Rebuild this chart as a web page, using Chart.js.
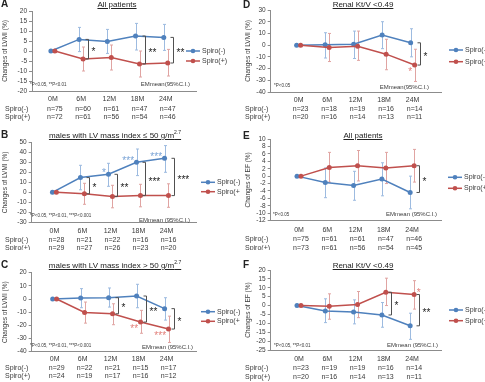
<!DOCTYPE html>
<html>
<head>
<meta charset="utf-8">
<title>LVMI / EF changes</title>
<script src="https://cdn.jsdelivr.net/npm/chart.js@4.4.1/dist/chart.umd.min.js"></script>
<style>
  html, body { margin: 0; padding: 0; background: #fff; }
  #fig { position: relative; width: 485px; height: 382px; overflow: hidden;
         font-family: "Liberation Sans", Arial, sans-serif; color: #222; }
  .panel { position: absolute; }
  .panel canvas { position: absolute; left: 0; top: 0; }
  .letter { position: absolute; font-weight: bold; font-size: 10px; line-height: 10px; }
  .title { position: absolute; font-size: 8px; line-height: 9px; white-space: nowrap;
           text-decoration: underline; transform: translateX(-50%); }
  .title sup { font-size: 5px; line-height: 0; }
</style>
</head>
<body>
<div id="fig">
  <div class="panel" style="left:0;top:0;width:240px;height:125px">
    <canvas id="cA" width="240" height="125"></canvas>
    <div class="letter" style="left:1px;top:-1px">A</div>
    <div class="title" style="left:117px;top:0px">All patients</div>
  </div>
  <div class="panel" style="left:0;top:125px;width:240px;height:125px">
    <canvas id="cB" width="240" height="125"></canvas>
    <div class="letter" style="left:1px;top:5px">B</div>
    <div class="title" style="left:115px;top:6px">males with LV mass index ≤ 50 g/m<sup>2.7</sup></div>
  </div>
  <div class="panel" style="left:0;top:250px;width:240px;height:132px">
    <canvas id="cC" width="240" height="132"></canvas>
    <div class="letter" style="left:1px;top:10px">C</div>
    <div class="title" style="left:115px;top:11px">males with LV mass index &gt; 50 g/m<sup>2.7</sup></div>
  </div>
  <div class="panel" style="left:240px;top:0;width:245px;height:125px">
    <canvas id="cD" width="245" height="125"></canvas>
    <div class="letter" style="left:3px;top:0px">D</div>
    <div class="title" style="left:123px;top:0px">Renal Kt/V &lt;0.49</div>
  </div>
  <div class="panel" style="left:240px;top:125px;width:245px;height:125px">
    <canvas id="cE" width="245" height="125"></canvas>
    <div class="letter" style="left:3px;top:6px">E</div>
    <div class="title" style="left:123px;top:6px">All patients</div>
  </div>
  <div class="panel" style="left:240px;top:250px;width:245px;height:132px">
    <canvas id="cF" width="245" height="132"></canvas>
    <div class="letter" style="left:3px;top:10px">F</div>
    <div class="title" style="left:123px;top:11px">Renal Kt/V &lt;0.49</div>
  </div>
</div>

<script>
/* ======================================================
   DATA
====================================================== */

const months = ["0M", "6M", "12M", "18M", "24M"];
const seriesNames = ["Spiro(-)", "Spiro(+)"];

// A: LVMI, all patients
const lvmiAllMinus   = [0, 5.8, 4.8, 7.5, 6.8];
const lvmiAllMinusCI = [[0, 0], [-0.3, 11.8], [-1.2, 10.8], [0.5, 13.8], [0.3, 13.3]];
const lvmiAllPlus    = [0, -4.0, -3.3, -6.5, -6.0];
const lvmiAllPlusCI  = [[0, 0], [-10, 2], [-9.5, 3], [-13, 0], [-12.5, 0.8]];
const lvmiAllNMinus  = [75, 60, 61, 47, 47];
const lvmiAllNPlus   = [72, 61, 56, 54, 46];
const lvmiAllSig     = [[1, "*"], [3, "**"], [4, "**"]];
const lvmiAllStars   = [];

// B: LVMI, males with LV mass index <= 50
const lvmiLowMinus   = [0, 14.7, 18, 30, 34];
const lvmiLowMinusCI = [[0, 0], [2.5, 27], [6, 29], [16.7, 43.3], [20, 46.7]];
const lvmiLowPlus    = [0, -1.5, -4.3, -3.3, -3.3];
const lvmiLowPlusCI  = [[0, 0], [-12, 9], [-15.5, 7], [-14.5, 8], [-15, 8.5]];
const lvmiLowNMinus  = [28, 21, 22, 16, 16];
const lvmiLowNPlus   = [29, 27, 26, 23, 20];
const lvmiLowSig     = [[1, "*"], [2, "**"], [3, "***"], [4, "***"]];
const lvmiLowStars   = [[0, 2, "*"], [0, 3, "***"], [0, 4, "***"]];

// C: LVMI, males with LV mass index > 50
const lvmiHighMinus   = [0, 0.8, 1, 2.3, -7.3];
const lvmiHighMinusCI = [[0, 0], [-6.6, 7.9], [-6.1, 8.4], [-6.6, 11.2], [-16, 1]];
const lvmiHighPlus    = [0, -10.2, -11.2, -17.5, -22.8];
const lvmiHighPlusCI  = [[0, 0], [-18.3, -2.3], [-19.5, -3.6], [-26, -8.6], [-33, -13]];
const lvmiHighNMinus  = [29, 22, 21, 15, 17];
const lvmiHighNPlus   = [24, 19, 17, 16, 12];
const lvmiHighSig     = [[2, "*"], [3, "**"], [4, "*"]];
const lvmiHighStars   = [[1, 3, "**"], [1, 4, "***"]];

// D: LVMI, renal Kt/V < 0.49
const lvmiKtvMinus   = [0, 0.3, 0.8, 8.6, 2];
const lvmiKtvMinusCI = [[0, 0], [-11, 10.6], [-11.4, 12], [-3, 20], [-10, 14]];
const lvmiKtvPlus    = [0, -2, -1, -7.7, -17];
const lvmiKtvPlusCI  = [[0, 0], [-14, 10], [-13, 12], [-21, 5], [-31, -3.5]];
const lvmiKtvNMinus  = [23, 18, 19, 16, 14];
const lvmiKtvNPlus   = [20, 16, 14, 13, 11];
const lvmiKtvSig     = [[4, "*"]];
const lvmiKtvStars   = [[1, 4, "*"]];

// E: EF, all patients
const efAllMinus   = [0, -1.7, -2.5, -0.8, -4.4];
const efAllMinusCI = [[0, 0], [-5.8, 2.2], [-6.5, 1.3], [-5.3, 3.6], [-8.8, 0]];
const efAllPlus    = [0, 2.3, 2.8, 2.2, 2.8];
const efAllPlusCI  = [[0, 0], [-1.6, 6.4], [-1.3, 6.9], [-2, 6.4], [-1.6, 7.2]];
const efAllNMinus  = [75, 61, 61, 47, 46];
const efAllNPlus   = [73, 61, 56, 54, 45];
const efAllSig     = [[4, "*"]];
const efAllStars   = [];

// F: EF, renal Kt/V < 0.49
const efKtvMinus   = [0, -3, -3.6, -5.3, -11.4];
const efKtvMinusCI = [[0, 0], [-9.6, 3.8], [-10.3, 3.2], [-12.2, 1.7], [-19, -4.3]];
const efKtvPlus    = [0, -0.4, 0.6, 7.5, 6.2];
const efKtvPlusCI  = [[0, 0], [-7.7, 6.6], [-6.8, 7.9], [0, 15.4], [-2, 14]];
const efKtvNMinus  = [23, 19, 19, 16, 14];
const efKtvNPlus   = [20, 16, 14, 13, 11];
const efKtvSig     = [[3, "*"], [4, "**"]];
const efKtvStars   = [[1, 4, "*"]];

/* ======================================================
   STYLE
====================================================== */

const BLUE = "#4f81bd";
const RED = "#c0504d";
const BLUE_BAR = "#9dbbe0";
const RED_BAR = "#e0a4a2";
const BLUE_STAR = "#7aa3d6";
const RED_STAR = "#e2807b";
const AXIS = "#8c8c8c";
const TEXT = "#3a3a3a";
const BRACKET = "#505050";
const DODGE = 0.07;
const FONT = "'Liberation Sans', Arial, sans-serif";

Chart.defaults.font.family = FONT;

/* ======================================================
   PANELS
====================================================== */

const panels = [
  { canvas: "cA", w: 240, h: 125, yTitle: "Changes of LVMI (%)",
    minus: lvmiAllMinus, minusCI: lvmiAllMinusCI, plus: lvmiAllPlus, plusCI: lvmiAllPlusCI,
    nMinus: lvmiAllNMinus, nPlus: lvmiAllNPlus, sig: lvmiAllSig, stars: lvmiAllStars,
    note: "*P<0.05, **P<0.01", emm: "EMmean(95%C.I.)",
    yMin: -20, yMax: 20, yStep: 5,
    box: { l: 32, r: 196.5, t: 11, b: 91, xMin: -0.74, xMax: 5.09, labelY: 99, nY: [109, 117],
           legX: 186, legY: [51, 61], noteX: 30, noteY: 85, emmX: 190, emmY: 84, titlePad: 1, starSide: "la" } },
  { canvas: "cB", w: 240, h: 125, yTitle: "Changes of LVMI (%)",
    minus: lvmiLowMinus, minusCI: lvmiLowMinusCI, plus: lvmiLowPlus, plusCI: lvmiLowPlusCI,
    nMinus: lvmiLowNMinus, nPlus: lvmiLowNPlus, sig: lvmiLowSig, stars: lvmiLowStars,
    note: "*P<0.05, **P<0.01, ***P<0.001", emm: "EMmean (95%C.I.)",
    yMin: -30, yMax: 50, yStep: 10,
    box: { l: 31.7, r: 196.5, t: 17.3, b: 97.3, xMin: -0.81, xMax: 5.07, labelY: 106, nY: [115, 123.3],
           legX: 201, legY: [57.3, 66.7], noteX: 30, noteY: 91, emmX: 190, emmY: 95, titlePad: 1, starSide: "la" } },
  { canvas: "cC", w: 240, h: 132, yTitle: "Changes of LVMI (%)",
    minus: lvmiHighMinus, minusCI: lvmiHighMinusCI, plus: lvmiHighPlus, plusCI: lvmiHighPlusCI,
    nMinus: lvmiHighNMinus, nPlus: lvmiHighNPlus, sig: lvmiHighSig, stars: lvmiHighStars,
    note: "*P<0.05, **P<0.01, ***P<0.001", emm: "EMmean (95%C.I.)",
    yMin: -40, yMax: 20, yStep: 10,
    box: { l: 31.7, r: 196.5, t: 22.7, b: 101.7, xMin: -0.82, xMax: 5.07, labelY: 108.3, nY: [118.3, 126],
           legX: 201, legY: [61.7, 71.3], noteX: 30, noteY: 96, emmX: 193, emmY: 97.3, titlePad: 1, starSide: "lb" } },
  { canvas: "cD", w: 245, h: 125, yTitle: "Changes of LVMI (%)",
    minus: lvmiKtvMinus, minusCI: lvmiKtvMinusCI, plus: lvmiKtvPlus, plusCI: lvmiKtvPlusCI,
    nMinus: lvmiKtvNMinus, nPlus: lvmiKtvNPlus, sig: lvmiKtvSig, stars: lvmiKtvStars,
    note: "*P<0.05", emm: "EMmean(95%C.I.)",
    yMin: -40, yMax: 30, yStep: 10,
    box: { l: 30.7, r: 201.7, t: 10, b: 92, xMin: -0.98, xMax: 5.02, labelY: 99.3, nY: [109, 117],
           legX: 209, legY: [50, 61.7], noteX: 34, noteY: 86, emmX: 189, emmY: 87, titlePad: 4, starSide: "lb" } },
  { canvas: "cE", w: 245, h: 125, yTitle: "Changes of EF (%)",
    minus: efAllMinus, minusCI: efAllMinusCI, plus: efAllPlus, plusCI: efAllPlusCI,
    nMinus: efAllNMinus, nPlus: efAllNPlus, sig: efAllSig, stars: efAllStars,
    note: "*P<0.05", emm: "EMmean (95%C.I.)",
    yMin: -12, yMax: 10, yStep: 2,
    box: { l: 30.7, r: 201, t: 14, b: 95.7, xMin: -1.0, xMax: 5.02, labelY: 104.7, nY: [114.3, 122.7],
           legX: 208, legY: [52.3, 63.3], noteX: 33, noteY: 89.3, emmX: 197, emmY: 89, titlePad: 4, starSide: "la" } },
  { canvas: "cF", w: 245, h: 132, yTitle: "Changes of EF (%)",
    minus: efKtvMinus, minusCI: efKtvMinusCI, plus: efKtvPlus, plusCI: efKtvPlusCI,
    nMinus: efKtvNMinus, nPlus: efKtvNPlus, sig: efKtvSig, stars: efKtvStars,
    note: "*P<0.05, **P<0.01", emm: "EMmean (95%C.I.)",
    yMin: -25, yMax: 20, yStep: 5,
    box: { l: 30.7, r: 201, t: 20, b: 100, xMin: -1.0, xMax: 5.02, labelY: 108.3, nY: [118.3, 127],
           legX: 209, legY: [60, 70.7], noteX: 34, noteY: 95.7, emmX: 198, emmY: 95.7, titlePad: 4, starSide: "ra" } }
];

/* ======================================================
   HELPERS
====================================================== */

// draws an asterisk string so the glyphs are visually centred on yc
function drawStars(ctx, text, x, yc, align, color) {
  ctx.font = "10px " + FONT;
  ctx.fillStyle = color;
  ctx.textAlign = align;
  ctx.textBaseline = "alphabetic";
  ctx.fillText(text, x, yc + 5.7);
}

function makeExtras(p) {
  const B = p.box;
  const sets = [
    { vals: p.minus, ci: p.minusCI, d: -DODGE, bar: BLUE_BAR, col: BLUE, star: BLUE_STAR },
    { vals: p.plus, ci: p.plusCI, d: DODGE, bar: RED_BAR, col: RED, star: RED_STAR }
  ];
  return {
    id: "extras_" + p.canvas,
    beforeDatasetsDraw(chart) {
      const { ctx, scales: { x, y } } = chart;
      sets.forEach(s => {
        ctx.save();
        ctx.strokeStyle = s.bar;
        ctx.lineWidth = 1;
        s.ci.forEach((c, i) => {
          if (c[0] === c[1]) return;
          const px = Math.round(x.getPixelForValue(i + s.d)) + 0.5;
          const y1 = y.getPixelForValue(c[0]);
          const y2 = y.getPixelForValue(c[1]);
          ctx.beginPath();
          ctx.moveTo(px, y1); ctx.lineTo(px, y2);
          ctx.moveTo(px - 1.5, y1); ctx.lineTo(px + 1.5, y1);
          ctx.moveTo(px - 1.5, y2); ctx.lineTo(px + 1.5, y2);
          ctx.stroke();
        });
        ctx.restore();
      });
    },
    afterDraw(chart) {
      const { ctx, scales: { x, y } } = chart;
      ctx.save();

      // between-group brackets
      p.sig.forEach(([i, label]) => {
        const bx = Math.round(x.getPixelForValue(i + 0.25)) + 0.5;
        const yt = y.getPixelForValue(Math.max(p.minus[i], p.plus[i]));
        const yb = y.getPixelForValue(Math.min(p.minus[i], p.plus[i]));
        ctx.strokeStyle = BRACKET;
        ctx.lineWidth = 1;
        ctx.beginPath();
        ctx.moveTo(bx - 3, yt); ctx.lineTo(bx, yt); ctx.lineTo(bx, yb); ctx.lineTo(bx - 3, yb);
        ctx.stroke();
        drawStars(ctx, label, bx + 3, (yt + yb) / 2, "left", "#222");
      });

      // within-group stars (vs baseline)
      p.stars.forEach(([si, i, label]) => {
        const s = sets[si];
        const px = x.getPixelForValue(i + s.d);
        const py = y.getPixelForValue(s.vals[i]);
        const left = B.starSide[0] === "l";
        const above = B.starSide[1] === "a";
        drawStars(ctx, label, left ? px - 2.5 : px + 2.5, above ? py - 4.5 : py + 4.5,
                  left ? "right" : "left", s.star);
      });

      // legend
      sets.forEach((s, k) => {
        const ly = B.legY[k];
        ctx.strokeStyle = s.col;
        ctx.lineWidth = 1.5;
        ctx.beginPath();
        ctx.moveTo(B.legX, ly); ctx.lineTo(B.legX + 14, ly);
        ctx.stroke();
        ctx.fillStyle = s.col;
        ctx.beginPath();
        ctx.arc(B.legX + 7, ly, 2.3, 0, Math.PI * 2);
        ctx.fill();
        ctx.font = "7px " + FONT;
        ctx.fillStyle = TEXT;
        ctx.textAlign = "left";
        ctx.textBaseline = "middle";
        ctx.fillText(seriesNames[k], B.legX + 16, ly);
      });

      // footnote and estimate label
      ctx.fillStyle = TEXT;
      ctx.textBaseline = "middle";
      ctx.font = "4.5px " + FONT;
      ctx.textAlign = "left";
      ctx.fillText(p.note, B.noteX, B.noteY);
      ctx.font = "6px " + FONT;
      ctx.textAlign = "right";
      ctx.fillText(p.emm, B.emmX, B.emmY);

      // n table
      ctx.font = "7px " + FONT;
      [p.nMinus, p.nPlus].forEach((row, k) => {
        ctx.textAlign = "left";
        ctx.fillText(seriesNames[k], 5, B.nY[k]);
        ctx.textAlign = "center";
        row.forEach((n, i) => ctx.fillText("n=" + n, x.getPixelForValue(i) + 2, B.nY[k]));
      });

      ctx.restore();
    }
  };
}

/* ======================================================
   CHARTS
====================================================== */

function createPanel(p) {
  const B = p.box;
  const el = document.getElementById(p.canvas);
  const line = (vals, d, col, name) => ({
    label: name,
    data: vals.map((v, i) => ({ x: i + d, y: v })),
    borderColor: col,
    backgroundColor: col,
    borderWidth: 1.5,
    pointRadius: 2.5,
    pointBorderWidth: 0,
    pointHoverRadius: 2.5,
    tension: 0
  });

  new Chart(el, {
    type: "line",
    data: {
      datasets: [
        line(p.plus, DODGE, RED, seriesNames[1]),
        line(p.minus, -DODGE, BLUE, seriesNames[0])
      ]
    },
    options: {
      responsive: false,
      animation: false,
      devicePixelRatio: 1,
      events: [],
      layout: { autoPadding: false, padding: { left: 0, top: B.t, right: p.w - B.r, bottom: 0 } },
      plugins: { legend: { display: false }, tooltip: { enabled: false } },
      scales: {
        x: {
          type: "linear",
          min: B.xMin,
          max: B.xMax,
          afterBuildTicks: s => { s.ticks = months.map((m, i) => ({ value: i })); },
          afterFit: s => { s.height = p.h - B.b; },
          ticks: {
            callback: v => months[v],
            autoSkip: false,
            maxRotation: 0,
            padding: B.labelY - B.b - 3.8,
            color: TEXT,
            font: { size: 7 }
          },
          grid: { display: false, drawTicks: false },
          border: { display: true, color: AXIS, width: 1 }
        },
        y: {
          min: p.yMin,
          max: p.yMax,
          afterFit: s => { s.width = B.l; },
          ticks: { stepSize: p.yStep, autoSkip: false, padding: 2, color: TEXT, font: { size: 6.5 } },
          grid: { display: true, drawOnChartArea: false, drawTicks: true, tickLength: 3, color: AXIS },
          border: { display: true, color: AXIS, width: 1 },
          title: { display: true, text: p.yTitle, color: TEXT, font: { size: 6.5 },
                   padding: { top: B.titlePad, bottom: 0 } }
        }
      }
    },
    plugins: [makeExtras(p)]
  });
}

panels.forEach(createPanel);
</script>
</body>
</html>
